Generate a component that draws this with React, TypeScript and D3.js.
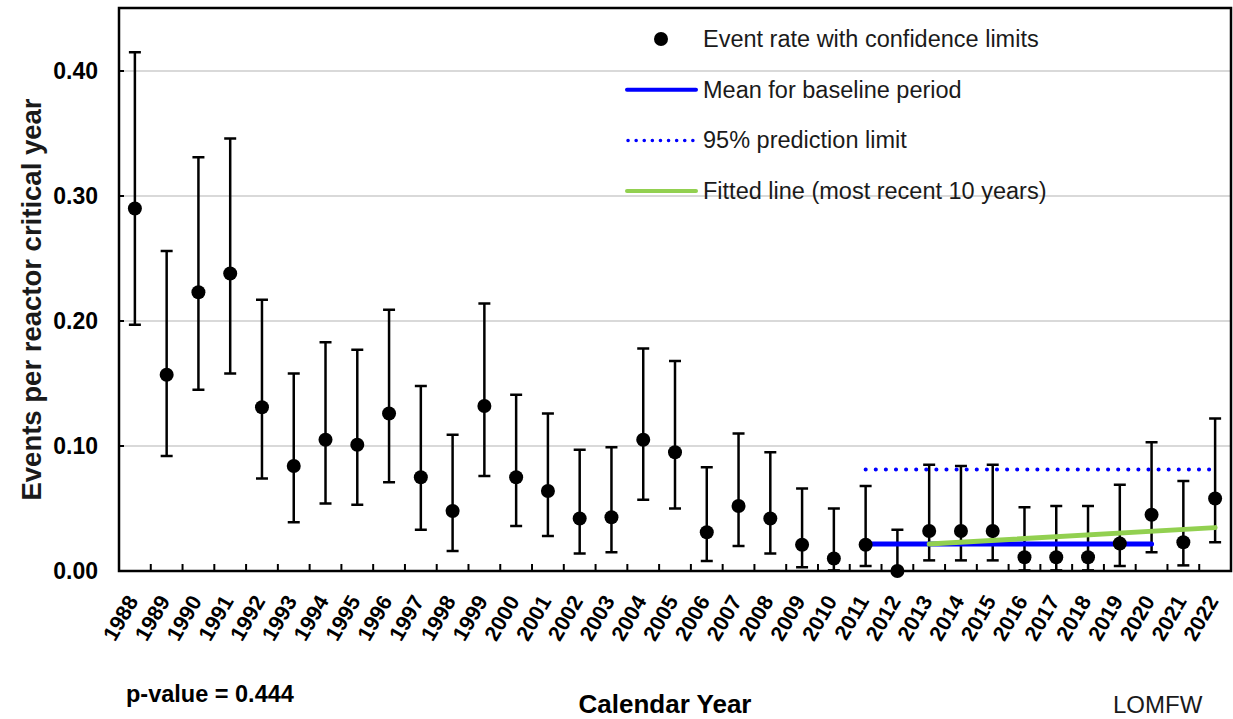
import * as d3 from "d3";

// Calendar years shown on the x axis
const years = [
  1988, 1989, 1990, 1991, 1992, 1993, 1994, 1995, 1996, 1997, 1998, 1999,
  2000, 2001, 2002, 2003, 2004, 2005, 2006, 2007, 2008, 2009, 2010, 2011,
  2012, 2013, 2014, 2015, 2016, 2017, 2018, 2019, 2020, 2021, 2022,
];

// Event rate (events per reactor critical year)
const rate = [
  0.290, 0.157, 0.223, 0.238, 0.131, 0.084, 0.105, 0.101, 0.126, 0.075, 0.048, 0.132,
  0.075, 0.064, 0.042, 0.043, 0.105, 0.095, 0.031, 0.052, 0.042, 0.021, 0.010, 0.021,
  0.000, 0.032, 0.032, 0.032, 0.011, 0.011, 0.011, 0.022, 0.045, 0.023, 0.058,
];

// Lower confidence limits
const lower = [
  0.197, 0.092, 0.145, 0.158, 0.074, 0.039, 0.054, 0.053, 0.071, 0.033, 0.016, 0.076,
  0.036, 0.028, 0.014, 0.015, 0.057, 0.050, 0.008, 0.020, 0.014, 0.003, 0.0005, 0.004,
  0.000, 0.0085, 0.0085, 0.0085, 0.0005, 0.0005, 0.0005, 0.004, 0.015, 0.0045, 0.023,
];

// Upper confidence limits
const upper = [
  0.415, 0.256, 0.331, 0.346, 0.217, 0.158, 0.183, 0.177, 0.209, 0.148, 0.109, 0.214,
  0.141, 0.126, 0.097, 0.099, 0.178, 0.168, 0.083, 0.110, 0.095, 0.066, 0.050, 0.068,
  0.033, 0.085, 0.084, 0.085, 0.051, 0.052, 0.052, 0.069, 0.103, 0.072, 0.122,
];

// Baseline mean, prediction limit and fitted trend
const baselineYears = [2011, 2020];
const baselineMean = [0.0216, 0.0216];
const limitYears = [2011, 2022];
const predictionLimit = [0.0813, 0.0813];
const fitYears = [2013, 2022];
const fitValues = [0.0216, 0.0347];

const yTicks = [0, 0.1, 0.2, 0.3, 0.4];

const legendItems = [
  { label: "Event rate with confidence limits", kind: "dot" },
  { label: "Mean for baseline period", kind: "mean" },
  { label: "95% prediction limit", kind: "limit" },
  { label: "Fitted line (most recent 10 years)", kind: "fit" },
];

const W = 1233;
const H = 719;
const margin = { top: 8, right: 2, bottom: 148, left: 119 };
const FONT = "'Liberation Sans', Arial, sans-serif";
const BLUE = "#0000ff";
const GREEN = "#92d050";

export default function App() {
  const x = d3
    .scaleBand<number>()
    .domain(years)
    .range([margin.left, W - margin.right])
    .padding(0);
  const y = d3.scaleLinear().domain([0, 0.45]).range([H - margin.bottom, margin.top + 0.5]);
  const cx = (yr: number) => (x(yr) ?? 0) + x.bandwidth() / 2;
  const line = d3
    .line<[number, number]>()
    .x((d) => cx(d[0]))
    .y((d) => y(d[1]));

  const y0 = y(0);
  const capHalf = 6;

  return (
    <svg
      width={W}
      height={H}
      style={{ position: "absolute", left: 0, top: 0, background: "#fff" }}
      fontFamily={FONT}
    >
      <rect x={0} y={0} width={W} height={H} fill="#fff" />

      {/* gridlines */}
      {yTicks.slice(1).map((t) => (
        <line key={t} x1={margin.left} x2={W - margin.right} y1={y(t)} y2={y(t)} stroke="#d9d9d9" strokeWidth={2} />
      ))}

      {/* legend */}
      {legendItems.map((item, i) => {
        const ly = 39 + i * 50.7;
        return (
          <g key={item.label}>
            {item.kind === "dot" && <circle cx={661} cy={ly} r={7} fill="#000" />}
            {item.kind === "mean" && <line x1={627} x2={696} y1={ly} y2={ly} stroke={BLUE} strokeWidth={4} strokeLinecap="round" />}
            {item.kind === "limit" && (
              <line x1={628} x2={694} y1={ly} y2={ly} stroke={BLUE} strokeWidth={3.5} strokeDasharray="0.1 8" strokeLinecap="round" />
            )}
            {item.kind === "fit" && <line x1={627} x2={696} y1={ly} y2={ly} stroke={GREEN} strokeWidth={4} strokeLinecap="round" />}
            <text x={703} y={ly + 8} fontSize={23.5} fill="#1a1a1a">
              {item.label}
            </text>
          </g>
        );
      })}

      {/* error bars */}
      {years.map((yr, i) => (
        <g key={yr} stroke="#000" strokeWidth={2.5}>
          <line x1={cx(yr)} x2={cx(yr)} y1={y(lower[i])} y2={y(upper[i])} />
          <line x1={cx(yr) - capHalf} x2={cx(yr) + capHalf} y1={y(upper[i])} y2={y(upper[i])} />
          <line x1={cx(yr) - capHalf} x2={cx(yr) + capHalf} y1={y(lower[i])} y2={y(lower[i])} />
        </g>
      ))}

      {/* baseline mean, prediction limit, fitted line */}
      <path
        d={line(baselineYears.map((yr, i) => [yr, baselineMean[i]]) as [number, number][]) ?? ""}
        stroke={BLUE}
        strokeWidth={5}
        fill="none"
        strokeLinecap="round"
      />
      <path
        d={line(limitYears.map((yr, i) => [yr, predictionLimit[i]]) as [number, number][]) ?? ""}
        stroke={BLUE}
        strokeWidth={4}
        fill="none"
        strokeDasharray="0.1 10"
        strokeLinecap="round"
      />
      <path
        d={line(fitYears.map((yr, i) => [yr, fitValues[i]]) as [number, number][]) ?? ""}
        stroke={GREEN}
        strokeWidth={5}
        fill="none"
        strokeLinecap="round"
      />

      {/* points */}
      {years.map((yr, i) => (
        <circle key={yr} cx={cx(yr)} cy={y(rate[i])} r={7} fill="#000" />
      ))}

      {/* x ticks (inside) */}
      {years.slice(1).map((yr) => (
        <line key={yr} x1={x(yr)} x2={x(yr)} y1={y0} y2={y0 - 7} stroke="#000" strokeWidth={2} />
      ))}

      {/* y ticks */}
      {yTicks.map((t) => (
        <g key={t}>
          <line x1={margin.left} x2={margin.left + 5} y1={y(t)} y2={y(t)} stroke="#000" strokeWidth={2} />
          <text x={98} y={y(t)} dy="0.36em" textAnchor="end" fontSize={23} fontWeight="bold" fill="#000">
            {t.toFixed(2)}
          </text>
        </g>
      ))}

      {/* plot frame */}
      <rect
        x={margin.left}
        y={margin.top}
        width={W - margin.right - margin.left}
        height={y0 - margin.top}
        fill="none"
        stroke="#000"
        strokeWidth={2.5}
      />

      {/* x tick labels */}
      {years.map((yr) => (
        <text
          key={yr}
          transform={`translate(${cx(yr) + 4},${y0 + 30}) rotate(-60)`}
          textAnchor="end"
          fontSize={21.5}
          fontWeight="bold"
          fill="#000"
        >
          {yr}
        </text>
      ))}

      {/* axis titles */}
      <text
        transform={`translate(41,${(margin.top + y0) / 2 + 10}) rotate(-90)`}
        textAnchor="middle"
        fontSize={27.5}
        fontWeight="bold"
        fill="#1a1a1a"
      >
        Events per reactor critical year
      </text>
      <text x={665} y={713} textAnchor="middle" fontSize={26} fontWeight="bold" fill="#000">
        Calendar Year
      </text>
      <text x={126} y={702} fontSize={23.5} fontWeight="bold" fill="#000">
        p-value = 0.444
      </text>
      <text x={1113} y={713} fontSize={24} fill="#1a1a1a">
        LOMFW
      </text>
    </svg>
  );
}
